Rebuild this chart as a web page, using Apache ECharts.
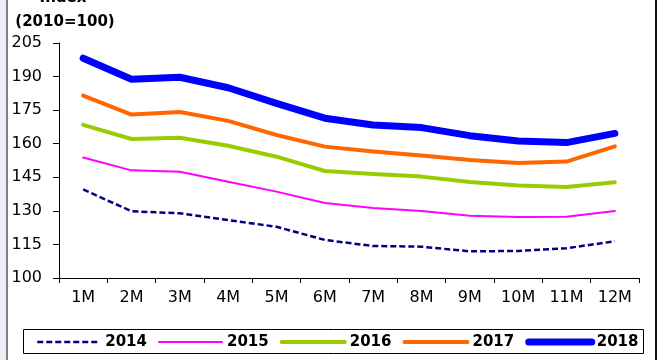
<!DOCTYPE html>
<html>
<head>
<meta charset="utf-8">
<script src="https://cdn.jsdelivr.net/npm/echarts@6/dist/echarts.min.js"></script>
<style>
  html, body { margin: 0; padding: 0; background: #ffffff; }
  #chart { width: 660px; height: 360px; }
</style>
</head>
<body>
<div id="chart"></div>
<script>
// Monthly index values, 2010 = 100
const months = ['1M', '2M', '3M', '4M', '5M', '6M', '7M', '8M', '9M', '10M', '11M', '12M'];
const s2014 = [139.6, 129.8, 128.9, 125.9, 122.9, 117.0, 114.3, 114.0, 111.9, 112.1, 113.3, 116.4];
const s2015 = [153.8, 148.1, 147.5, 143.0, 138.6, 133.5, 131.3, 129.9, 127.8, 127.3, 127.4, 129.9];
const s2016 = [168.4, 162.1, 162.7, 159.1, 154.2, 147.8, 146.5, 145.3, 142.9, 141.3, 140.7, 142.8];
const s2017 = [181.5, 173.0, 174.2, 170.2, 163.9, 158.7, 156.5, 154.7, 152.7, 151.4, 152.0, 158.8];
const s2018 = [198.2, 188.8, 189.7, 185.0, 178.0, 171.4, 168.4, 167.2, 163.6, 161.2, 160.5, 164.6];
const yearNames = ['2014', '2015', '2016', '2017', '2018'];

const FONT = 'DejaVu Sans';

// line look per year: colour, width, dash pattern
const looks = {
  '2014': { color: '#000080', width: 2.5, type: [6, 3], cap: 'butt' },
  '2015': { color: '#ff00ff', width: 2, type: 'solid', cap: 'round' },
  '2016': { color: '#99cc00', width: 4, type: 'solid', cap: 'round' },
  '2017': { color: '#ff6600', width: 4, type: 'solid', cap: 'round' },
  '2018': { color: '#0000ff', width: 7, type: 'solid', cap: 'round' }
};

const chart = echarts.init(document.getElementById('chart'), null, { renderer: 'canvas' });

function lineSeries(name, data) {
  const lk = looks[name];
  return {
    name: name,
    type: 'line',
    data: data,
    color: lk.color,
    symbol: 'none',
    smooth: false,
    animation: false,
    lineStyle: { color: lk.color, width: lk.width, type: lk.type, cap: lk.cap, join: 'round' }
  };
}

chart.setOption({
  backgroundColor: '#ffffff',
  animation: false,
  grid: { left: 59, right: 21, top: 43, bottom: 82, containLabel: false },
  graphic: [
    // left page strip and frame lines
    { type: 'rect', shape: { x: 0, y: 0, width: 6, height: 360 }, style: { fill: '#eceff8' }, silent: true },
    { type: 'line', shape: { x1: 7, y1: 0, x2: 7, y2: 360 }, style: { stroke: '#555555', lineWidth: 1.5 }, silent: true },
    { type: 'line', shape: { x1: 656, y1: 0, x2: 656, y2: 360 }, style: { stroke: '#111111', lineWidth: 2 }, silent: true },
    // legend box
    { type: 'rect', shape: { x: 23.5, y: 329.5, width: 620, height: 24 }, style: { fill: 'none', stroke: '#000000', lineWidth: 1 }, silent: true },
    // axis title
    { type: 'text', style: { x: 63, y: -2, text: 'Index', font: 'bold 15px "DejaVu Sans"', fill: '#000', textAlign: 'center', textVerticalAlign: 'middle' }, silent: true },
    { type: 'text', style: { x: 65, y: 22, text: '(2010=100)', font: 'bold 15px "DejaVu Sans"', fill: '#000', textAlign: 'center', textVerticalAlign: 'middle' }, silent: true }
  ],
  legend: {
    data: yearNames.map(function (n) {
      const lk = looks[n];
      return {
        name: n,
        itemStyle: { color: 'rgba(0,0,0,0)', borderWidth: 0, opacity: 0 },
        lineStyle: { color: lk.color, width: lk.width, type: lk.type, cap: lk.cap }
      };
    }),
    left: 36,
    top: 334.5,
    orient: 'horizontal',
    itemWidth: 63,
    itemHeight: 14,
    itemGap: 11,
    padding: 0,
    textStyle: { fontFamily: FONT, fontWeight: 'bold', fontSize: 15, color: '#000000' }
  },
  xAxis: {
    type: 'category',
    data: months,
    boundaryGap: true,
    axisLine: { show: true, lineStyle: { color: '#000000', width: 1 } },
    axisTick: { show: true, alignWithLabel: false, length: 5, lineStyle: { color: '#000000' } },
    axisLabel: { fontFamily: FONT, fontSize: 16, color: '#000000', margin: 12, interval: 0 },
    splitLine: { show: false }
  },
  yAxis: {
    type: 'value',
    min: 100,
    max: 205,
    interval: 15,
    axisLine: { show: true, lineStyle: { color: '#000000', width: 1 } },
    axisTick: { show: true, length: 6, lineStyle: { color: '#000000' } },
    axisLabel: { fontFamily: FONT, fontSize: 16, color: '#000000', margin: 17 },
    splitLine: { show: false }
  },
  series: [
    lineSeries('2014', s2014),
    lineSeries('2015', s2015),
    lineSeries('2016', s2016),
    lineSeries('2017', s2017),
    lineSeries('2018', s2018)
  ]
});
</script>
</body>
</html>
